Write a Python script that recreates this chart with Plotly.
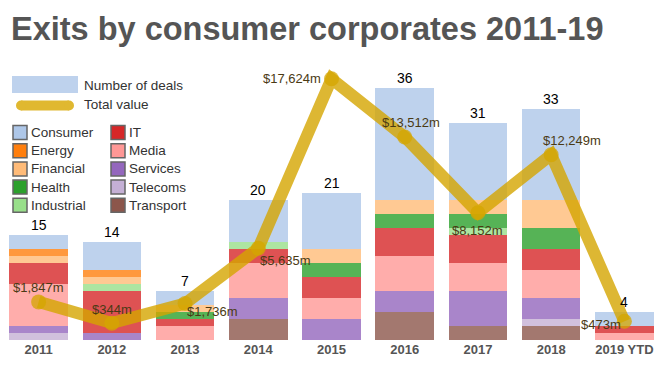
import plotly.graph_objects as go

years = ["2011", "2012", "2013", "2014", "2015", "2016", "2017", "2018", "2019 YTD"]
sectors = ["Consumer", "Energy", "Financial", "Health", "Industrial",
           "IT", "Media", "Services", "Telecoms", "Transport"]
colors = ["#aec7e8", "#ff7f0e", "#ffbb78", "#2ca02c", "#98df8a",
          "#d62728", "#ff9896", "#9467bd", "#c5b0d5", "#8c564b"]

consumer   = [2, 4, 2, 6, 8, 16, 11, 13, 2]
energy     = [1, 1, 0, 0, 0, 0, 0, 0, 0]
financial  = [1, 1, 1, 0, 2, 2, 2, 4, 0]
health     = [0, 0, 1, 0, 2, 2, 2, 3, 0]
industrial = [0, 1, 0, 1, 0, 0, 1, 0, 0]
it         = [3, 6, 1, 2, 3, 4, 4, 3, 1]
media      = [6, 0, 2, 5, 3, 5, 4, 4, 1]
services   = [1, 1, 0, 3, 3, 3, 5, 3, 0]
telecoms   = [1, 0, 0, 0, 0, 0, 0, 1, 0]
transport  = [0, 0, 0, 3, 0, 4, 2, 2, 0]

total_value = [1847, 344, 1736, 5635, 17624, 13512, 8152, 12249, 473]
value_labels = ["$1,847m", "$344m", "$1,736m", "$5,635m", "$17,624m",
                "$13,512m", "$8,152m", "$12,249m", "$473m"]

series = {
    "Consumer": consumer, "Energy": energy, "Financial": financial,
    "Health": health, "Industrial": industrial, "IT": it, "Media": media,
    "Services": services, "Telecoms": telecoms, "Transport": transport,
}
deals = [sum(v[i] for v in series.values()) for i in range(len(years))]

FONT = "Liberation Sans, Arial, sans-serif"

# plot area in pixels
L, R, T, B = 2, 661, 60, 340
W, H = 663, 371


def px(x):
    return (x - L) / (R - L)


def py(y):
    return (B - y) / (B - T)


fig = go.Figure()

# stacked bars, bottom-to-top = reversed legend order
for name, col in reversed(list(zip(sectors, colors))):
    fig.add_trace(go.Bar(
        x=years, y=series[name], name=name,
        marker=dict(color=col, opacity=0.8, line=dict(width=0)),
        showlegend=False, hoverinfo="skip",
    ))

fig.add_trace(go.Scatter(
    x=years, y=total_value, yaxis="y2", mode="lines+markers",
    line=dict(color="rgba(212,165,0,0.8)", width=12),
    marker=dict(color="rgba(212,165,0,0.75)", size=15),
    showlegend=False, hoverinfo="skip",
))

annotations = []
# deal count labels (x given as category index)
for i, d in enumerate(deals):
    annotations.append(dict(x=i, y=d, xref="x", yref="y", text=str(d),
                            showarrow=False, yanchor="bottom", xanchor="center",
                            font=dict(family=FONT, size=14, color="#000")))

# value labels: (xanchor, xshift, yshift)
label_pos = [("center", 0, 14), ("center", 0, 14), ("left", 0, -8),
             ("left", 0, -12), ("right", -9, 0), ("center", 6, 14),
             ("center", 0, -18), ("left", -10, 14), ("right", -1, -3)]
for i, (v, lab, (xa, xs, ys)) in enumerate(zip(total_value, value_labels, label_pos)):
    annotations.append(dict(x=i, y=v, xref="x", yref="y2", text=lab,
                            showarrow=False, xanchor=xa, yanchor="middle",
                            xshift=xs, yshift=ys,
                            font=dict(family=FONT, size=13, color="#4a3a14")))

# title
annotations.append(dict(x=px(9), y=py(29), xref="paper", yref="paper",
                        text="<b>Exits by consumer corporates 2011-19</b>",
                        showarrow=False, xanchor="left", yanchor="middle",
                        font=dict(family=FONT, size=32.5, color="#555555")))

shapes = []
# legend: number of deals box
shapes.append(dict(type="rect", xref="paper", yref="paper",
                   x0=px(12), x1=px(78), y0=py(93), y1=py(76),
                   fillcolor="rgb(190,210,237)", line=dict(width=0)))
annotations.append(dict(x=px(82), y=py(85), xref="paper", yref="paper",
                        text="Number of deals", showarrow=False,
                        xanchor="left", yanchor="middle",
                        font=dict(family=FONT, size=13.5, color="#333")))
# legend: total value rounded line
shapes.append(dict(type="rect", xref="paper", yref="paper",
                   x0=px(21), x1=px(69), y0=py(110.5), y1=py(100.5),
                   fillcolor="#e0b830", line=dict(width=0)))
for cx in (21, 69):
    shapes.append(dict(type="circle", xref="paper", yref="paper",
                       xsizemode="pixel", ysizemode="pixel",
                       xanchor=px(cx), yanchor=py(105.5),
                       x0=-5, x1=5, y0=-5, y1=5,
                       fillcolor="#e0b830", line=dict(width=0)))
annotations.append(dict(x=px(82), y=py(104), xref="paper", yref="paper",
                        text="Total value", showarrow=False,
                        xanchor="left", yanchor="middle",
                        font=dict(family=FONT, size=13.5, color="#333")))

# legend: sector squares, two columns
row_y = [132.5, 150.7, 168.9, 187.1, 205.3]
for i, (name, col) in enumerate(zip(sectors, colors)):
    c = i // 5
    r = i % 5
    sx = 20 if c == 0 else 118
    tx = 29 if c == 0 else 127
    yy = row_y[r]
    shapes.append(dict(type="rect", xref="paper", yref="paper",
                       x0=px(sx - 7), x1=px(sx + 7), y0=py(yy + 7), y1=py(yy - 7),
                       fillcolor=col, line=dict(color="#666", width=1.5)))
    annotations.append(dict(x=px(tx), y=py(yy), xref="paper", yref="paper",
                            text=name, showarrow=False,
                            xanchor="left", yanchor="middle",
                            font=dict(family=FONT, size=13.5, color="#333")))

fig.update_layout(
    width=W, height=H,
    margin=dict(l=L, r=W - R, t=T, b=H - B, autoexpand=False),
    barmode="stack", bargap=0.2,
    plot_bgcolor="white", paper_bgcolor="white",
    xaxis=dict(type="category", range=[-0.5, 8.5], showgrid=False,
               showline=False, ticks="", automargin=False,
               tickfont=dict(family=FONT, size=13, color="#555555", weight="bold"),
               fixedrange=True),
    yaxis=dict(range=[0, 40], visible=False, showgrid=False, fixedrange=True),
    yaxis2=dict(range=[-849, 18953], overlaying="y", side="right",
                visible=False, showgrid=False, fixedrange=True),
    annotations=annotations, shapes=shapes,
    showlegend=False,
)

fig.write_html("out.html", config={"displayModeBar": False, "staticPlot": True},
               post_script="document.body.style.margin='0';document.body.style.overflow='hidden';")
